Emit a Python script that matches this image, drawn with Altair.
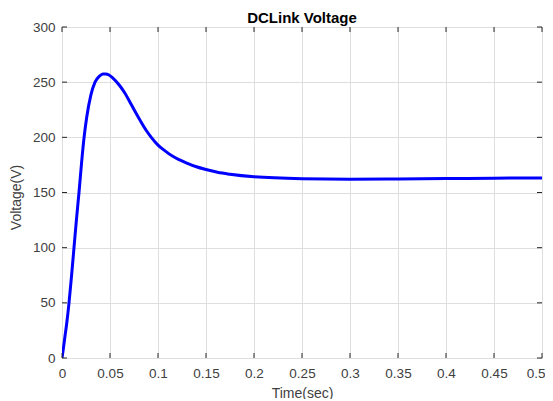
import altair as alt
import pandas as pd

# Data
time_s = [0, 0.0015, 0.003, 0.005, 0.0073, 0.01, 0.0125, 0.015, 0.0177, 0.0205,
          0.023, 0.0257, 0.03, 0.0344, 0.039, 0.0425, 0.0455, 0.049, 0.0528, 0.06,
          0.0656, 0.0726, 0.081, 0.088, 0.093, 0.1, 0.107, 0.115, 0.122, 0.13,
          0.14, 0.15, 0.162, 0.175, 0.2, 0.25, 0.3, 0.35, 0.4, 0.45, 0.5]
voltage = [0, 9, 19, 32, 50, 75, 100, 125, 150, 178,
           200, 218, 238, 250, 255.5, 257.5, 257.5, 256.5, 254, 247,
           240, 229, 216, 206, 200, 193, 188, 183, 179.8, 176.7,
           173.3, 170.8, 168.3, 166.5, 164.2, 162.5, 162.1, 162.3, 162.6, 163.0, 163.2]
x_ticks = [0, 0.05, 0.1, 0.15, 0.2, 0.25, 0.3, 0.35, 0.4, 0.45, 0.5]
y_ticks = [0, 50, 100, 150, 200, 250, 300]

W, H = 480, 331
TICK = 5
FONT = "Liberation Sans"
TXT = "#404040"
FRAME = "#262626"

df = pd.DataFrame({"t": time_s, "v": voltage})
xt = pd.DataFrame({"t": x_ticks})
yt = pd.DataFrame({"v": y_ticks})

xs = alt.Scale(domain=[0, 0.5], nice=False, zero=False)
ys = alt.Scale(domain=[0, 300], nice=False, zero=False)

x_axis = alt.Axis(values=x_ticks, format="~g", grid=True, gridColor="#dedede",
                  domain=False, ticks=False, labelPadding=8, labelFontSize=13.5,
                  labelFont=FONT, labelColor=TXT, title="Time(sec)",
                  titleFont=FONT, titleFontSize=14, titleFontWeight="normal",
                  titleColor=TXT, titleBaseline="alphabetic", titleY=39,
                  labelFlush=False,
                  labelAlign=alt.ExprRef("datum.value >= 0.5 ? 'right' : 'center'"),
                  labelOffset=alt.ExprRef("datum.value >= 0.5 ? 3 : 0"))
y_axis = alt.Axis(values=y_ticks, format="d", grid=True, gridColor="#dedede",
                  domain=False, ticks=False, labelPadding=7, labelFontSize=13.5,
                  labelFont=FONT, labelColor=TXT, title="Voltage(V)",
                  titleFont=FONT, titleFontSize=14, titleFontWeight="normal",
                  titleColor=TXT, titleAngle=-90, titleBaseline="middle",
                  titleX=-46, titleY=170, labelFlush=False)

X = alt.X("t:Q", scale=xs, axis=x_axis)
Y = alt.Y("v:Q", scale=ys, axis=y_axis)

line = alt.Chart(df).mark_line(color="#0000ff", strokeWidth=3,
                               interpolate="monotone", clip=True).encode(x=X, y=Y)

tick_style = dict(color=FRAME, strokeWidth=1)
xb = alt.Chart(xt).mark_rule(**tick_style).encode(
    x=X, y=alt.value(H), y2=alt.value(H - TICK))
xtop = alt.Chart(xt).mark_rule(**tick_style).encode(
    x=X, y=alt.value(0), y2=alt.value(TICK))
yl = alt.Chart(yt).mark_rule(**tick_style).encode(
    y=Y, x=alt.value(0), x2=alt.value(TICK))
yr = alt.Chart(yt).mark_rule(**tick_style).encode(
    y=Y, x=alt.value(W), x2=alt.value(W - TICK))

chart = alt.layer(line, xb, xtop, yl, yr).properties(
    width=W, height=H,
    title=alt.TitleParams("DCLink Voltage", font=FONT, fontSize=15,
                          fontWeight="bold", color="#000000", anchor="middle",
                          baseline="alphabetic", offset=6, dy=24),
    autosize=alt.AutoSizeParams(type="none"),
    padding={"left": 54, "top": 19, "right": 3, "bottom": 41},
).configure_view(stroke=FRAME, strokeWidth=1).configure(background="white")

chart.save("out.html", embed_options={"renderer": "svg", "actions": False})
